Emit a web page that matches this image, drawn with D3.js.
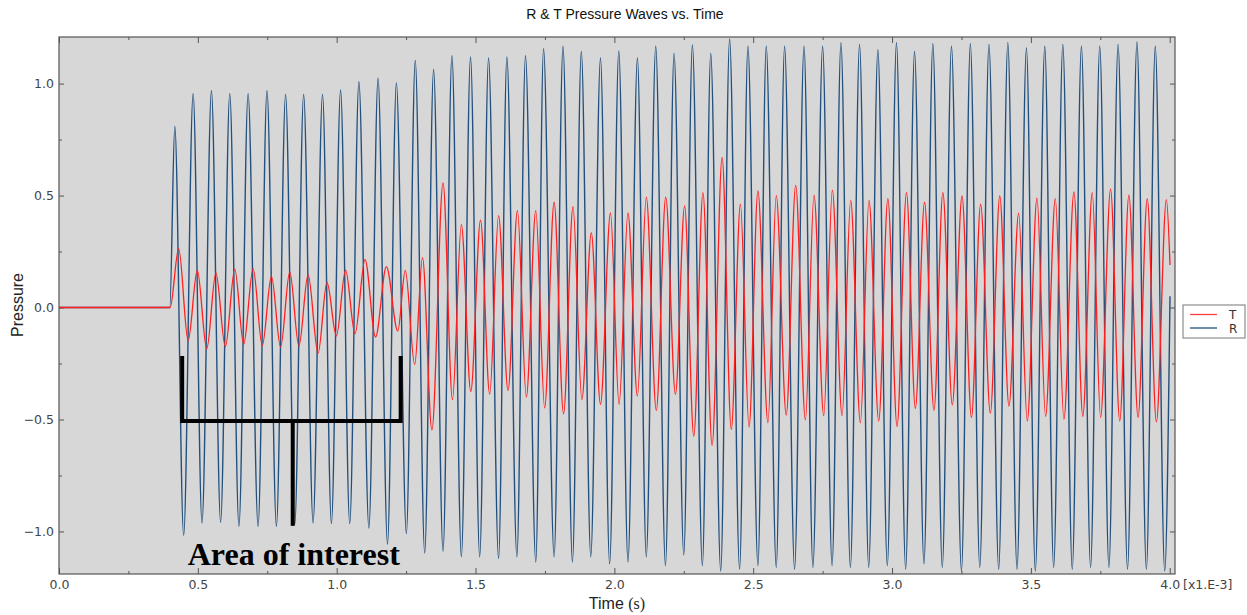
<!DOCTYPE html>
<html>
<head>
<meta charset="utf-8" />
<title>R & T Pressure Waves vs. Time</title>
<style>
body { margin: 0; background: #fff; }
.tick text { font-family: "DejaVu Sans", Verdana, sans-serif; font-size: 12.5px; fill: #444; }
.tick line { stroke: #555; }
.domain { stroke: none; }
</style>
</head>
<body>
<div id="chart"></div>
<script src="https://d3js.org/d3.v7.min.js"></script>
<script>
// time in ms (axis shows x1.E-3 s), pressure values
// R wave: start, then alternating peaks / troughs
var rTime = [0, 0.399,
  0.417, 0.449, 0.483, 0.515, 0.549, 0.582, 0.615, 0.648, 0.681, 0.717, 0.749, 0.783,
  0.816, 0.849, 0.881, 0.915, 0.949, 0.981, 1.014, 1.047, 1.080, 1.116, 1.149, 1.183,
  1.215, 1.251, 1.283, 1.317, 1.349, 1.383, 1.415, 1.449, 1.482, 1.515, 1.547, 1.583,
  1.613, 1.649, 1.680, 1.717, 1.745, 1.783, 1.815, 1.849, 1.881, 1.915, 1.950, 1.983,
  2.016, 2.049, 2.083, 2.115, 2.149, 2.184, 2.215, 2.250, 2.281, 2.317, 2.347, 2.383,
  2.415, 2.451, 2.481, 2.517, 2.547, 2.583, 2.613, 2.649, 2.683, 2.715, 2.750, 2.784,
  2.816, 2.850, 2.883, 2.916, 2.949, 2.983, 3.016, 3.049, 3.081, 3.115, 3.147, 3.181,
  3.214, 3.250, 3.282, 3.316, 3.349, 3.384, 3.417, 3.450, 3.484, 3.516, 3.550, 3.582,
  3.615, 3.649, 3.682, 3.715, 3.748, 3.781, 3.814, 3.848, 3.882, 3.916, 3.948, 3.982,
  4.001];
var rPressure = [0, 0,
  0.81, -1.017, 0.955, -0.962, 0.968, -0.96, 0.955, -0.977, 0.955, -0.977, 0.968, -0.977,
  0.952, -0.97, 0.952, -0.962, 0.952, -0.965, 0.971, -0.965, 1.008, -0.985, 1.024, -1.057,
  1.003, -1.009, 1.103, -1.097, 1.063, -1.089, 1.124, -1.113, 1.119, -1.113, 1.114, -1.121,
  1.119, -1.113, 1.124, -1.137, 1.156, -1.113, 1.167, -1.137, 1.143, -1.113, 1.114, -1.145,
  1.146, -1.137, 1.114, -1.113, 1.167, -1.153, 1.135, -1.105, 1.172, -1.153, 1.135, -1.177,
  1.199, -1.169, 1.167, -1.153, 1.167, -1.161, 1.167, -1.169, 1.167, -1.161, 1.167, -1.153,
  1.183, -1.161, 1.175, -1.161, 1.151, -1.153, 1.183, -1.169, 1.143, -1.145, 1.178, -1.161,
  1.167, -1.177, 1.178, -1.161, 1.175, -1.169, 1.183, -1.169, 1.159, -1.177, 1.167, -1.161,
  1.175, -1.169, 1.167, -1.161, 1.167, -1.161, 1.175, -1.169, 1.186, -1.169, 1.167, -1.177,
  0.05];

// T wave: start, then alternating peaks / troughs
var tTime = [0, 0.400,
  0.431, 0.465, 0.498, 0.532, 0.565, 0.599, 0.633, 0.665, 0.699, 0.732, 0.765, 0.798,
  0.831, 0.864, 0.897, 0.933, 0.965, 0.999, 1.032, 1.066, 1.102, 1.140, 1.179, 1.220,
  1.247, 1.281, 1.309, 1.343, 1.383, 1.417, 1.449, 1.483, 1.518, 1.551, 1.583, 1.617,
  1.651, 1.683, 1.717, 1.749, 1.783, 1.817, 1.851, 1.883, 1.917, 1.950, 1.986, 2.017,
  2.049, 2.083, 2.115, 2.151, 2.185, 2.220, 2.253, 2.286, 2.319, 2.352, 2.388, 2.421,
  2.454, 2.485, 2.517, 2.553, 2.583, 2.619, 2.653, 2.688, 2.719, 2.754, 2.785, 2.820,
  2.851, 2.886, 2.917, 2.952, 2.985, 3.018, 3.052, 3.084, 3.117, 3.151, 3.183, 3.217,
  3.252, 3.286, 3.319, 3.354, 3.388, 3.421, 3.456, 3.487, 3.522, 3.553, 3.588, 3.619,
  3.655, 3.687, 3.721, 3.751, 3.787, 3.820, 3.853, 3.886, 3.919, 3.952, 3.988, 4.001];
var tPressure = [0, 0,
  0.263, -0.148, 0.167, -0.185, 0.155, -0.175, 0.171, -0.164, 0.174, -0.17, 0.139, -0.177,
  0.159, -0.172, 0.147, -0.204, 0.112, -0.127, 0.167, -0.117, 0.214, -0.132, 0.183, -0.105,
  0.166, -0.255, 0.223, -0.547, 0.556, -0.411, 0.37, -0.375, 0.39, -0.387, 0.41, -0.371,
  0.433, -0.4, 0.433, -0.448, 0.47, -0.475, 0.45, -0.411, 0.333, -0.432, 0.422, -0.432,
  0.422, -0.395, 0.493, -0.459, 0.493, -0.387, 0.454, -0.575, 0.513, -0.616, 0.67, -0.544,
  0.462, -0.534, 0.521, -0.515, 0.5, -0.48, 0.545, -0.502, 0.502, -0.483, 0.524, -0.483,
  0.478, -0.515, 0.478, -0.507, 0.486, -0.531, 0.513, -0.451, 0.47, -0.459, 0.513, -0.435,
  0.498, -0.491, 0.462, -0.472, 0.498, -0.44, 0.421, -0.507, 0.489, -0.486, 0.486, -0.499,
  0.516, -0.486, 0.513, -0.491, 0.529, -0.507, 0.502, -0.491, 0.486, -0.511, 0.482, 0.19];

var xTicks = [0, 0.5, 1.0, 1.5, 2.0, 2.5, 3.0, 3.5, 4.0];
var yTicks = [-1.0, -0.5, 0.0, 0.5, 1.0];

(function(d3) {
  'use strict';

  var width = 1247, height = 615;
  var plotLeft = 59, plotRight = 1175, plotTop = 37, plotBottom = 574;

  var svg = d3.select('#chart').append('svg')
    .attr('width', width).attr('height', height)
    .style('font-family', '"Liberation Sans", Arial, sans-serif');

  var x = d3.scaleLinear().domain([0, 4.019]).range([plotLeft, plotRight]);
  var y = d3.scaleLinear().domain([-1.19, 1.208]).range([plotBottom, plotTop]);

  svg.append('rect').attr('x', plotLeft).attr('y', plotTop)
    .attr('width', plotRight - plotLeft).attr('height', plotBottom - plotTop)
    .attr('fill', '#d7d7d7');

  svg.append('clipPath').attr('id', 'clip').append('rect')
    .attr('x', plotLeft).attr('y', plotTop)
    .attr('width', plotRight - plotLeft).attr('height', plotBottom - plotTop);

  var minorX = [0.25, 0.75, 1.25, 1.75, 2.25, 2.75, 3.25, 3.75];
  var minorY = [-0.75, -0.25, 0.25, 0.75];

  function tickAxis(axis, values, size, labels) {
    return axis.tickValues(values).tickSizeInner(size).tickSizeOuter(0)
      .tickFormat(labels ? d3.format('.1f') : '');
  }

  // bottom
  svg.append('g').attr('transform', 'translate(0,' + plotBottom + ')')
    .call(tickAxis(d3.axisBottom(x), xTicks, -6, true).tickPadding(6));
  svg.append('g').attr('transform', 'translate(0,' + plotBottom + ')')
    .call(tickAxis(d3.axisBottom(x), minorX, -3, false));
  // top
  svg.append('g').attr('transform', 'translate(0,' + plotTop + ')')
    .call(tickAxis(d3.axisTop(x), xTicks, -6, false));
  svg.append('g').attr('transform', 'translate(0,' + plotTop + ')')
    .call(tickAxis(d3.axisTop(x), minorX, -3, false));
  // left
  svg.append('g').attr('transform', 'translate(' + plotLeft + ',0)')
    .call(tickAxis(d3.axisLeft(y), yTicks, -5, true).tickPadding(5));
  svg.append('g').attr('transform', 'translate(' + plotLeft + ',0)')
    .call(tickAxis(d3.axisLeft(y), minorY, -3, false));
  // right
  svg.append('g').attr('transform', 'translate(' + plotRight + ',0)')
    .call(tickAxis(d3.axisRight(y), yTicks, -5, false));
  svg.append('g').attr('transform', 'translate(' + plotRight + ',0)')
    .call(tickAxis(d3.axisRight(y), minorY, -3, false));

  var line = d3.line()
    .x(function(d) { return x(d[0]); })
    .y(function(d) { return y(d[1]); })
    .curve(d3.curveMonotoneX);

  var rData = d3.zip(rTime, rPressure);
  var tData = d3.zip(tTime, tPressure);

  var plot = svg.append('g').attr('clip-path', 'url(#clip)');
  plot.append('path').datum(rData).attr('d', line)
    .attr('fill', 'none').attr('stroke', '#22507e').attr('stroke-width', 1.4);
  plot.append('path').datum(tData).attr('d', line)
    .attr('fill', 'none').attr('stroke', '#ff1f1f').attr('stroke-width', 1.3);

  // frame
  svg.append('rect').attr('x', plotLeft).attr('y', plotTop)
    .attr('width', plotRight - plotLeft).attr('height', plotBottom - plotTop)
    .attr('fill', 'none').attr('stroke', '#555').attr('stroke-width', 1.2);

  // titles
  svg.append('text').attr('x', 625).attr('y', 19).attr('text-anchor', 'middle')
    .attr('font-size', 14).attr('fill', '#111').text('R & T Pressure Waves vs. Time');
  svg.append('text').attr('transform', 'translate(23,305) rotate(-90)')
    .attr('text-anchor', 'middle').attr('font-size', 16).attr('fill', '#222').text('Pressure');
  var xl = svg.append('text').attr('x', 617).attr('y', 609).attr('text-anchor', 'middle')
    .attr('font-size', 16).attr('fill', '#222');
  xl.append('tspan').text('Time ');
  xl.append('tspan').attr('font-family', '"Liberation Serif", serif').text('(s)');
  svg.append('text').attr('x', 1183).attr('y', 589)
    .style('font-family', '"DejaVu Sans", Verdana, sans-serif')
    .attr('font-size', 12.5).attr('fill', '#444').text('[x1.E-3]');

  // legend
  var legend = svg.append('g').attr('transform', 'translate(1183,305)');
  legend.append('rect').attr('width', 62).attr('height', 33)
    .attr('fill', '#fff').attr('stroke', '#777');
  var legendItems = [['T', '#ff4040'], ['R', '#22507e']];
  legendItems.forEach(function(d, i) {
    legend.append('line').attr('x1', 7).attr('x2', 34)
      .attr('y1', 9.5 + i * 13.5).attr('y2', 9.5 + i * 13.5)
      .attr('stroke', d[1]).attr('stroke-width', 1.3);
    legend.append('text').attr('x', 46).attr('y', 14 + i * 13.5)
      .style('font-family', '"DejaVu Sans", Verdana, sans-serif')
      .attr('font-size', 12).attr('fill', '#333').text(d[0]);
  });

  // annotation bracket
  var br = [0.4436, 1.2305], stem = 0.8417;
  var ann = svg.append('g').attr('stroke', '#000').attr('stroke-width', 4).attr('fill', 'none');
  ann.append('path').attr('d', 'M' + x(br[0]) + ',' + y(-0.217) + 'V' + y(-0.507) +
    'H' + x(br[1]) + 'V' + y(-0.217));
  ann.append('line').attr('x1', x(stem)).attr('x2', x(stem))
    .attr('y1', y(-0.507)).attr('y2', y(-0.975));
  svg.append('text').attr('x', x(0.4635)).attr('y', y(-1.15))
    .attr('font-family', '"Liberation Serif", "Times New Roman", serif')
    .attr('font-weight', 'bold').attr('font-size', 32).attr('fill', '#000')
    .text('Area of interest');
})(window.d3);
</script>
</body>
</html>
